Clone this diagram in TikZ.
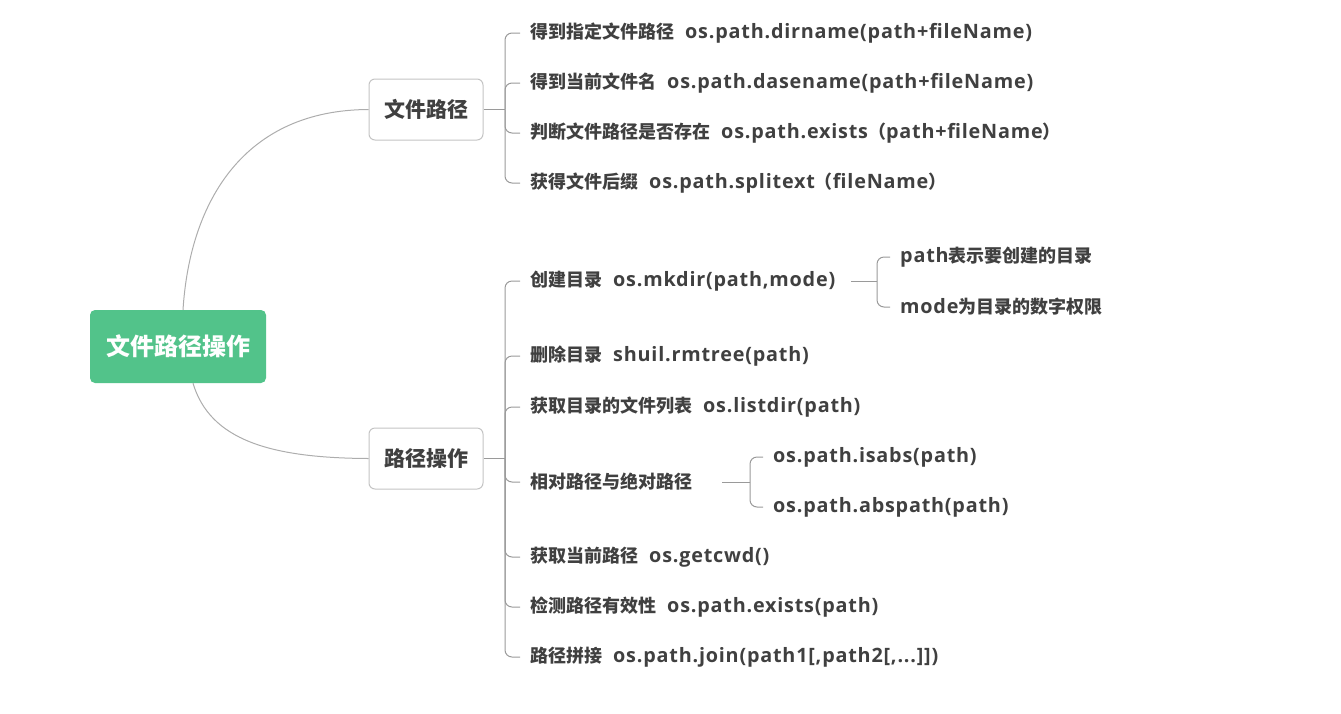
\documentclass[tikz,border=0pt]{standalone}
\usepackage{fontspec}
\newfontfamily\cjk{Noto Sans CJK SC}
\newfontfamily\latf{Open Sans}[Scale=1.1,LetterSpace=4]
\newcommand{\lat}[1]{{\latf\bfseries #1}}
\newcommand{\gp}{\hspace{11pt}}
\definecolor{rootgreen}{HTML}{52C38A}
\definecolor{txt}{HTML}{404040}
\definecolor{linegray}{HTML}{9A9A9A}
\definecolor{curvegray}{HTML}{ADADAD}
\definecolor{boxgray}{HTML}{C4C4C4}
\begin{document}
\begin{tikzpicture}[x=1pt,y=-1pt,
  rootbox/.style={fill=rootgreen,draw=none,rounded corners=5pt,minimum width=176pt,minimum height=73pt,inner sep=0pt,text=white,font=\cjk\bfseries\fontsize{24}{26}\selectfont},
  branchbox/.style={fill=white,draw=boxgray,line width=1pt,rounded corners=6pt,minimum width=114pt,minimum height=61pt,inner sep=0pt,text=txt,font=\cjk\bfseries\fontsize{21}{23}\selectfont},
  item/.style={anchor=west,inner sep=0pt,text=txt,font=\cjk\bfseries\fontsize{18}{20}\selectfont},
  conn/.style={draw=linegray,line width=1pt,rounded corners=7pt},
  curve/.style={draw=curvegray,line width=1pt}]
\useasboundingbox (0,0) rectangle (1341,713);
% root and branches
\node[rootbox] (root) at (178,346.5) {文件路径操作};
\node[branchbox] (b1) at (426,109.5) {文件路径};
\node[branchbox] (b2) at (426,458.5) {路径操作};
\draw[curve] ([xshift=5pt]root.north) .. controls (190,200) and (245,110) .. (b1.west);
\draw[curve] ([xshift=15pt]root.south) .. controls (210,440) and (270,458) .. (b2.west);
% items of branch 1
\node[item] (a1) at (530,33) {得到指定文件路径\gp\lat{os.path.dirname(path+fileName)}};
\node[item] (a2) at (530,83) {得到当前文件名\gp\lat{os.path.dasename(path+fileName)}};
\node[item] (a3) at (530,133) {判断文件路径是否存在\gp\lat{os.path.exists}（\lat{path+fileName}）};
\node[item] (a4) at (530,183) {获得文件后缀\gp\lat{os.path.splitext}（\lat{fileName}）};
\coordinate (j1) at (505,109.5);
\draw[conn] (b1.east) -- (j1);
\foreach \c in {a1,a2,a3,a4} \draw[conn] (j1) |- ([xshift=-10pt]\c.west);
% items of branch 2
\node[item] (c1) at (530,281) {创建目录\gp\lat{os.mkdir(path,mode)}};
\node[item] (c2) at (530,356) {删除目录\gp\lat{shuil.rmtree(path)}};
\node[item] (c3) at (530,407) {获取目录的文件列表\gp\lat{os.listdir(path)}};
\node[item] (c4) at (530,482) {相对路径与绝对路径};
\node[item] (c5) at (530,557) {获取当前路径\gp\lat{os.getcwd()}};
\node[item] (c6) at (530,607) {检测路径有效性\gp\lat{os.path.exists(path)}};
\node[item] (c7) at (530,657) {路径拼接\gp\lat{os.path.join(path1[,path2[,...]])}};
\coordinate (j2) at (505,458.5);
\draw[conn] (b2.east) -- (j2);
\foreach \c in {c1,c2,c3,c4,c5,c6,c7} \draw[conn] (j2) |- ([xshift=-10pt]\c.west);
% sub items of c1
\node[item] (d1) at (900,257) {\lat{path}表示要创建的目录};
\node[item] (d2) at (900,307) {\lat{mode}为目录的数字权限};
\coordinate (j3) at (877,281);
\draw[conn] ([xshift=16pt]c1.east) -- (j3);
\foreach \c in {d1,d2} \draw[conn] (j3) |- ([xshift=-10pt]\c.west);
% sub items of c4
\node[item] (e1) at (773,457) {\lat{os.path.isabs(path)}};
\node[item] (e2) at (773,507) {\lat{os.path.abspath(path)}};
\coordinate (j4) at (750,482);
\draw[conn] ([xshift=30pt]c4.east) -- (j4);
\foreach \c in {e1,e2} \draw[conn] (j4) |- ([xshift=-10pt]\c.west);
\end{tikzpicture}
\end{document}
